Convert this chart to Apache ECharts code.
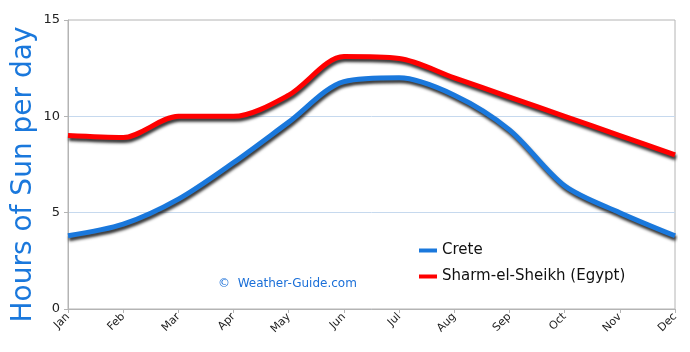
<!DOCTYPE html>
<html>
<head>
    <meta charset="utf-8">
    <title>Hours of Sun per day</title>
    <script src="https://cdn.jsdelivr.net/npm/echarts@6/dist/echarts.min.js"></script>
    <style>
        html, body { margin: 0; padding: 0; background: #fff; }
        #chart { width: 690px; height: 352px; }
    </style>
</head>
<body>
<div id="chart"></div>
<script>
    // data
    var months = ['Jan', 'Feb', 'Mar', 'Apr', 'May', 'Jun', 'Jul', 'Aug', 'Sep', 'Oct', 'Nov', 'Dec'];
    var crete = [3.8, 4.4, 5.7, 7.6, 9.7, 11.8, 12.0, 11.1, 9.3, 6.4, 5.0, 3.8];
    var sharm = [9.0, 8.9, 10.0, 10.0, 11.1, 13.1, 13.0, 12.0, 11.0, 10.0, 9.0, 8.0];
    var yTicks = [0, 5, 10, 15];

    var font = 'DejaVu Sans';

    function lineSeries(name, data, color) {
        return {
            name: name,
            type: 'line',
            data: data,
            smooth: 0.3,
            symbol: 'none',
            lineStyle: {
                width: 5,
                color: color,
                shadowColor: 'rgba(0,0,0,0.8)',
                shadowBlur: 3,
                shadowOffsetX: 1,
                shadowOffsetY: 3
            },
            itemStyle: { color: color }
        };
    }

    var chart = echarts.init(document.getElementById('chart'));
    chart.setOption({
        animation: false,
        textStyle: { fontFamily: font },
        grid: {
            left: 68, right: 15, top: 20, bottom: 43,
            outerBoundsMode: 'none',
            show: true,
            borderColor: '#b4b4b4',
            borderWidth: 1
        },
        legend: {
            orient: 'vertical',
            left: 414,
            top: 238,
            itemWidth: 18,
            itemHeight: 4,
            itemGap: 11,
            icon: 'rect',
            textStyle: { fontFamily: font, fontSize: 15, color: '#111' },
            data: ['Crete', 'Sharm-el-Sheikh (Egypt)']
        },
        graphic: [{
            type: 'text',
            left: 218,
            top: 278,
            style: {
                text: '\u00a9  Weather-Guide.com',
                fill: '#1a6fd8',
                font: '12px ' + font
            }
        }],
        xAxis: {
            type: 'category',
            boundaryGap: false,
            data: months,
            axisLine: { lineStyle: { color: '#b4b4b4' } },
            axisTick: { show: true, length: 4, lineStyle: { color: '#b4b4b4' } },
            axisLabel: { rotate: 45, fontSize: 11, color: '#222', margin: 6, fontFamily: font },
            splitLine: { show: false }
        },
        yAxis: {
            type: 'value',
            min: yTicks[0],
            max: yTicks[yTicks.length - 1],
            interval: 5,
            name: 'Hours of Sun per day',
            nameLocation: 'middle',
            nameGap: 30,
            nameMoveOverlap: false,
            nameTextStyle: { fontSize: 28, color: '#1a78dc', fontFamily: font, padding: [0, 20, 0, 0] },
            axisLine: { show: true, lineStyle: { color: '#b4b4b4' } },
            axisTick: { show: true, length: 4, lineStyle: { color: '#b4b4b4' } },
            axisLabel: { fontSize: 13, color: '#222', margin: 8, fontFamily: font },
            splitLine: { show: true, showMaxLine: false, lineStyle: { color: '#c6d9ee' } }
        },
        series: [
            lineSeries('Crete', crete, '#1a78dc'),
            lineSeries('Sharm-el-Sheikh (Egypt)', sharm, '#ff0000')
        ]
    });
</script>
</body>
</html>
